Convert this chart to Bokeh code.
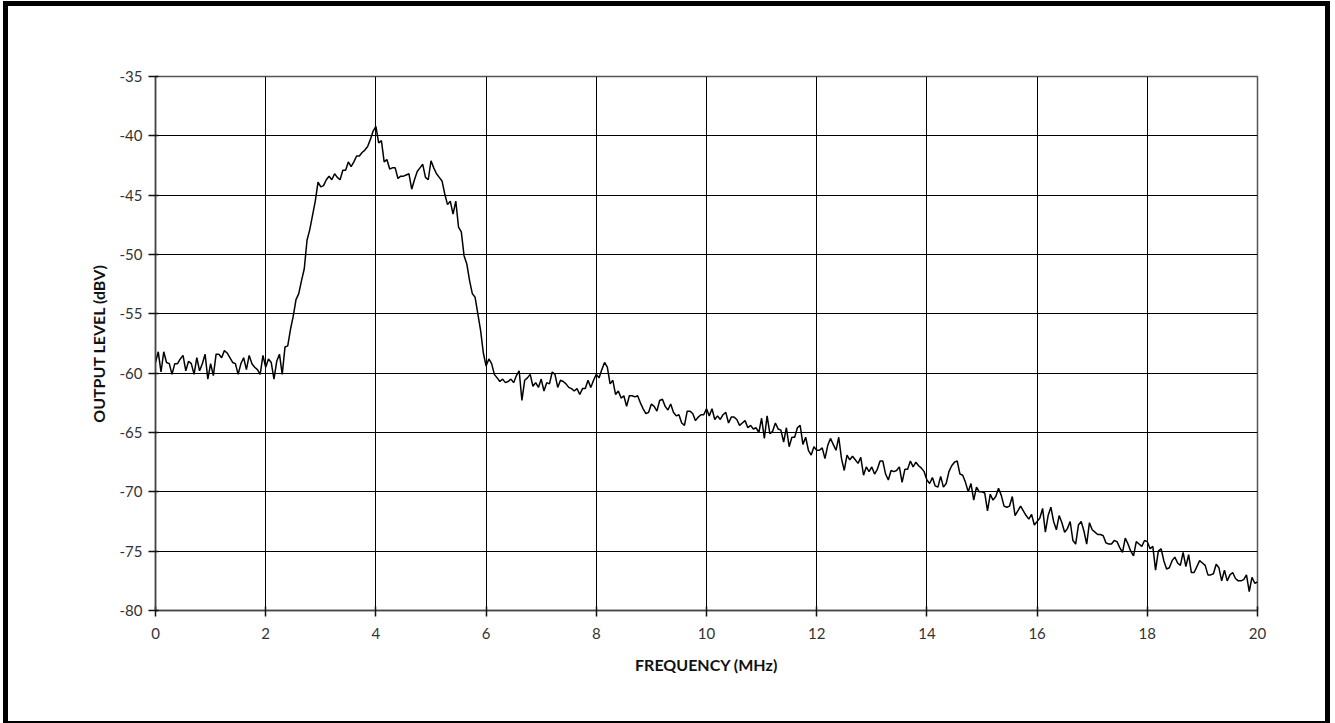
from bokeh.plotting import figure
from bokeh.layouts import column
from bokeh.models import Range1d, FixedTicker, ColumnDataSource
from bokeh.embed import file_html
from bokeh.resources import INLINE

# Spectrum sweep: 0 to 20 MHz, one reading every 0.05 MHz
FREQ_START_MHZ = 0.0
FREQ_STEP_MHZ = 0.05

# Output level readings (dBV), 0.00 .. 6.00 MHz
level_0_to_6 = [
    -59.1, -58.2, -59.9, -58.2, -59.1, -59.2, -60.1, -59.2, -59.2, -58.8,
    -58.5, -59.8, -59.0, -59.2, -60.1, -58.7, -59.8, -59.2, -58.4, -60.5,
    -59.2, -60.2, -58.4, -58.4, -58.7, -58.1, -58.3, -58.7, -59.1, -59.2,
    -60.1, -59.2, -58.7, -59.7, -58.5, -59.2, -59.5, -59.7, -60.1, -58.5,
    -59.5, -58.8, -59.1, -60.5, -59.0, -58.4, -60.1, -57.8, -57.7, -56.3,
    -55.2, -53.8, -53.3, -52.2, -51.2, -48.8, -47.9, -46.7, -45.5, -43.9,
    -44.3, -44.2, -43.7, -43.4, -43.7, -43.2, -43.5, -43.7, -42.9, -42.9,
    -42.2, -42.6, -42.2, -41.7, -41.7, -41.4, -41.2, -40.9, -40.3, -39.6,
    -39.2, -40.6, -40.4, -42.2, -42.0, -42.8, -42.7, -42.7, -43.6, -43.4,
    -43.4, -43.3, -43.2, -44.5, -43.7, -43.0, -42.7, -42.4, -43.5, -43.7,
    -42.1, -42.7, -43.2, -43.5, -43.8, -44.9, -45.8, -45.5, -46.6, -45.5,
    -47.7, -48.1, -50.1, -50.8, -52.2, -53.3, -53.6, -55.0, -56.4, -58.3,
    -59.4,
]

# 6.05 .. 10.90 MHz
level_6_to_11 = [
    -58.8, -59.2, -60.1, -60.4, -60.7, -60.5, -60.8, -60.7, -60.5, -60.8,
    -60.2, -59.8, -62.3, -60.6, -60.4, -60.1, -61.1, -60.8, -61.2, -60.5,
    -61.5, -60.8, -60.9, -59.9, -60.1, -61.2, -60.6, -60.7, -60.9, -61.2,
    -61.3, -61.5, -61.3, -61.8, -61.3, -61.3, -60.6, -61.2, -60.6, -60.1,
    -60.4, -59.7, -59.1, -59.5, -60.9, -60.6, -61.8, -61.5, -62.1, -61.9,
    -62.8, -61.9, -61.9, -62.0, -61.9, -62.5, -63.0, -63.4, -63.3, -62.6,
    -62.8, -63.2, -62.3, -62.2, -62.8, -63.1, -62.6, -63.3, -63.6, -63.5,
    -64.2, -64.4, -63.2, -63.2, -63.4, -64.0, -63.7, -63.5, -63.5, -63.0,
    -63.6, -63.0, -63.9, -63.6, -63.9, -63.5, -63.3, -64.2, -63.7, -63.7,
    -63.9, -64.4, -64.2, -64.0, -64.6, -64.4, -64.7, -64.6,
]

# 10.95 .. 15.95 MHz
level_11_to_16 = [
    -65.0, -63.8, -65.5, -63.6, -65.1, -64.9, -64.2, -64.7, -64.8, -65.8,
    -64.6, -66.2, -65.4, -65.4, -64.6, -64.4, -66.0, -65.4, -66.5, -66.9,
    -66.2, -66.5, -66.5, -66.3, -67.2, -66.1, -65.5, -66.0, -66.5, -65.4,
    -67.2, -68.2, -66.9, -67.3, -67.0, -67.3, -67.6, -67.1, -68.6, -67.9,
    -68.3, -67.9, -68.5, -68.1, -67.4, -67.4, -68.5, -69.0, -68.2, -68.3,
    -68.2, -67.9, -69.2, -68.1, -68.1, -67.4, -67.9, -67.5, -67.8, -68.0,
    -68.3, -69.0, -69.3, -68.8, -69.5, -69.6, -68.7, -69.6, -69.3, -68.3,
    -67.8, -67.5, -67.4, -68.5, -68.6, -69.2, -70.0, -69.3, -70.7, -69.6,
    -70.0, -70.0, -70.1, -71.6, -70.2, -70.7, -70.4, -69.7, -70.3, -71.2,
    -71.3, -71.2, -70.4, -72.0, -71.6, -71.2, -71.6, -72.0, -72.3, -71.9,
    -72.8,
]

# 16.00 .. 20.00 MHz
level_16_to_20 = [
    -72.5, -72.2, -71.4, -73.4, -72.0, -71.3, -72.5, -73.2, -72.0, -72.6,
    -73.4, -73.1, -72.5, -74.1, -74.4, -72.8, -72.5, -73.3, -74.4, -72.6,
    -73.2, -73.4, -73.6, -73.6, -73.7, -74.3, -74.4, -74.4, -74.1, -74.2,
    -74.7, -75.1, -73.9, -74.4, -75.0, -75.4, -74.2, -74.4, -74.6, -74.1,
    -74.2, -74.8, -74.6, -76.6, -75.0, -74.8, -75.8, -76.5, -76.4, -75.8,
    -75.5, -76.0, -76.2, -75.1, -76.3, -75.3, -76.8, -76.8, -76.3, -75.8,
    -76.0, -76.2, -77.0, -77.0, -76.9, -76.1, -76.4, -77.5, -76.6, -77.5,
    -77.0, -76.8, -77.3, -77.5, -77.5, -77.4, -77.0, -78.4, -77.2, -77.7,
    -77.6,
]

x_ticks = [0, 2, 4, 6, 8, 10, 12, 14, 16, 18, 20]
y_ticks = [-80, -75, -70, -65, -60, -55, -50, -45, -40, -35]
x_title = "FREQUENCY (MHz)"
y_title = "OUTPUT LEVEL (dBV)"

level = level_0_to_6 + level_6_to_11 + level_11_to_16 + level_16_to_20
freq = [round(FREQ_START_MHZ + i * FREQ_STEP_MHZ, 2) for i in range(len(level))]
src = ColumnDataSource(data=dict(freq=freq, level=level))

# figure sits inside a 5px black frame, offset (8, 6) on the page
p = figure(
    width=1317, height=715,
    x_range=Range1d(0, 20), y_range=Range1d(-80, -35),
    output_backend="svg", toolbar_location=None,
    min_border_left=147, min_border_right=68,
    min_border_top=70, min_border_bottom=111,
)
p.background_fill_color = "white"
p.border_fill_color = "white"
p.outline_line_color = "#555555"
p.outline_line_width = 1.5

FONT = "Lato"
for ax in (p.xaxis[0], p.yaxis[0]):
    ax.major_label_text_font = FONT
    ax.major_label_text_font_size = "15px"
    ax.major_label_text_color = "#333333"
    ax.axis_label_text_font = FONT
    ax.axis_label_text_font_size = "16px"
    ax.axis_label_text_font_style = "bold"
    ax.axis_label_text_color = "#111111"
    ax.axis_line_color = "#444444"
    ax.axis_line_width = 1.5
    ax.major_tick_line_color = "#111111"
    ax.major_tick_line_width = 1.5
    ax.minor_tick_line_color = None

p.xaxis.ticker = FixedTicker(ticks=x_ticks)
p.yaxis.ticker = FixedTicker(ticks=y_ticks)
# plain hyphen for negative numbers
p.yaxis.major_label_overrides = {t: str(t) for t in y_ticks}
p.xaxis.major_label_overrides = {t: str(t) for t in x_ticks}
p.xaxis.axis_label = x_title
p.yaxis.axis_label = y_title
p.xaxis.major_tick_in = 4
p.xaxis.major_tick_out = 6
p.yaxis.major_tick_in = 3
p.yaxis.major_tick_out = 7
p.xaxis.major_label_standoff = 11
p.yaxis.major_label_standoff = 6
p.xaxis.axis_label_standoff = 13
p.yaxis.axis_label_standoff = 9

p.xgrid.ticker = FixedTicker(ticks=x_ticks)
p.ygrid.ticker = FixedTicker(ticks=y_ticks)
for g in (p.xgrid[0], p.ygrid[0]):
    g.grid_line_color = "black"
    g.grid_line_width = 1
    g.grid_line_alpha = 1.0

p.line("freq", "level", source=src, line_color="black", line_width=1.5)

page = column(p, styles={
    "border": "5px solid black",
    "box-sizing": "content-box",
    "margin": "1px 0 0 3px",
    "width": "fit-content",
    "background": "white",
})

open("out.html", "w").write(file_html(page, INLINE))
